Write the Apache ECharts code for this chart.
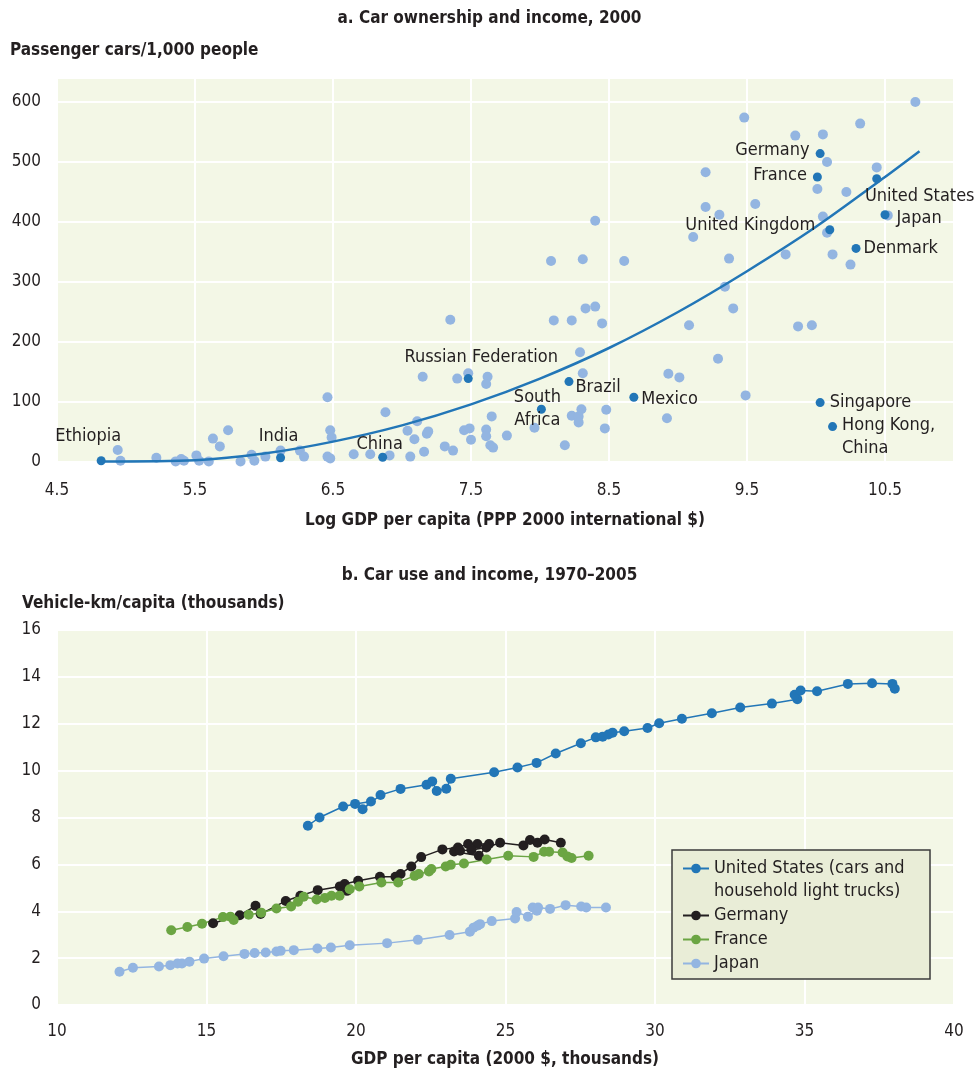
<!DOCTYPE html>
<html>
<head>
<meta charset="utf-8">
<title>Car ownership and car use vs income</title>
<script src="https://cdn.jsdelivr.net/npm/echarts@6/dist/echarts.min.js"></script>
<style>
  html, body { margin: 0; padding: 0; background: #fff; }
  #chart { width: 979px; height: 1072px; }
</style>
</head>
<body>
<div id="chart"></div>
<script>
// ---- panel a: car ownership and income, 2000 ----
// other countries (light dots): log GDP per capita, cars per 1,000 people
var otherGdp = [4.94, 4.96, 5.22, 5.36, 5.40, 5.42, 5.51, 5.53, 5.60, 5.63, 5.68, 5.74, 5.83, 5.91, 5.93,
  6.01, 6.12, 6.26, 6.29, 6.46, 6.48, 6.49, 6.46, 6.48, 6.65, 6.77, 6.91, 6.88, 7.04, 7.11, 7.09, 7.18,
  7.19, 7.06, 7.16, 7.31, 7.37, 7.15, 7.40, 7.35, 7.48, 7.62, 7.61, 7.45, 7.49, 7.50, 7.61, 7.61, 7.65,
  7.64, 7.66, 7.76, 7.96, 8.18, 8.08, 8.31, 8.40, 8.61, 8.10, 8.23, 8.33, 8.40, 8.45, 8.29, 8.31, 8.30,
  8.23, 8.28, 8.28, 8.48, 8.47, 8.93, 8.92, 9.01, 9.08, 9.29, 9.49, 9.34, 9.40, 9.37, 9.11, 9.20, 9.30,
  9.20, 9.48, 9.56, 9.78, 9.87, 9.97, 9.85, 10.05, 10.08, 10.01, 10.22, 10.05, 10.08, 10.12, 10.25,
  10.32, 10.44, 10.52, 10.72];
var otherCars = [20, 2, 7, 1, 5, 2, 11, 2, 1, 39, 26, 53, 1, 12, 2,
  9, 19, 19, 9, 108, 53, 41, 9, 6, 13, 13, 11, 83, 52, 68, 38, 47,
  51, 9, 17, 26, 19, 142, 139, 237, 148, 142, 130, 53, 56, 37, 54, 43, 76,
  28, 24, 44, 57, 28, 335, 338, 402, 335, 236, 236, 256, 259, 231, 183, 148, 88,
  77, 76, 66, 87, 56, 147, 73, 141, 228, 172, 111, 292, 256, 339, 375, 425, 412,
  483, 574, 430, 346, 226, 228, 544, 546, 500, 455, 450, 409, 382, 346, 329,
  564, 491, 411, 600];

// named countries (dark dots)
var namedCountries = ['Ethiopia', 'India', 'China', 'Russian Federation', 'South\nAfrica', 'Brazil', 'Mexico',
  'Germany', 'France', 'United States', 'Japan', 'United Kingdom', 'Denmark', 'Singapore', 'Hong Kong,\nChina'];
var namedGdp = [4.82, 6.12, 6.86, 7.48, 8.01, 8.21, 8.68, 10.03, 10.01, 10.44, 10.50, 10.10, 10.29, 10.03, 10.12];
var namedCars = [2, 7, 8, 139, 88, 134, 108, 514, 475, 472, 412, 387, 356, 99, 59];

// fitted curve
var trendGdp = [4.82, 5.5, 6.0, 6.5, 7.0, 7.5, 8.0, 8.5, 9.0, 9.5, 10.0, 10.5, 10.75];
var trendCars = [1, 3, 14, 34, 61, 96, 139, 190, 250, 318, 392, 475, 518];

// ---- panel b: car use and income, 1970-2005 ----
// GDP per capita (2000 $, thousands) and vehicle-km per capita (thousands)
var usGdp = [18.39, 18.78, 19.57, 19.97, 20.50, 20.22, 20.82, 21.49, 22.36, 22.55, 22.70, 23.02, 23.17, 24.62,
  25.40, 26.04, 26.68, 27.52, 28.02, 28.25, 28.44, 28.58, 28.97, 29.75, 30.14, 30.90, 31.90, 32.85, 33.91,
  34.76, 34.67, 34.87, 35.42, 36.45, 37.26, 37.94, 38.02];
var usVkm = [7.65, 8.00, 8.47, 8.58, 8.68, 8.35, 8.96, 9.22, 9.40, 9.54, 9.13, 9.23, 9.65, 9.93,
  10.13, 10.33, 10.73, 11.17, 11.42, 11.45, 11.54, 11.62, 11.68, 11.82, 12.02, 12.21, 12.45, 12.69, 12.86,
  13.05, 13.24, 13.42, 13.39, 13.70, 13.73, 13.70, 13.49];

var deGdp = [15.22, 16.11, 16.64, 16.81, 17.65, 18.14, 18.72, 19.46, 19.70, 19.62, 20.07, 20.80, 21.32, 21.49,
  21.85, 22.18, 22.89, 23.41, 23.75, 24.06, 24.45, 24.11, 23.28, 23.48, 23.86, 24.36, 24.82, 25.60, 25.82,
  26.07, 26.31, 26.85];
var deVkm = [3.49, 3.83, 4.23, 3.88, 4.44, 4.66, 4.90, 5.06, 4.87, 5.16, 5.30, 5.47, 5.47, 5.59,
  5.91, 6.31, 6.64, 6.72, 6.87, 6.87, 6.87, 6.37, 6.55, 6.58, 6.61, 6.72, 6.92, 6.81, 7.04,
  6.92, 7.06, 6.92];

var frGdp = [13.82, 14.36, 14.85, 15.55, 15.80, 15.91, 16.41, 16.83, 17.34, 17.83, 18.06, 18.25, 18.68, 18.96,
  19.18, 19.45, 19.79, 20.11, 20.85, 21.41, 21.96, 22.10, 22.44, 22.52, 23.00, 23.17, 23.61, 24.37, 25.09,
  25.94, 26.29, 26.46, 26.91, 27.07, 27.21, 27.78];
var frVkm = [3.19, 3.33, 3.47, 3.75, 3.77, 3.63, 3.85, 3.94, 4.12, 4.20, 4.41, 4.62, 4.50, 4.57,
  4.66, 4.66, 4.94, 5.06, 5.23, 5.23, 5.51, 5.59, 5.70, 5.80, 5.91, 5.98, 6.04, 6.21, 6.37,
  6.32, 6.54, 6.54, 6.51, 6.34, 6.27, 6.37];

var jpGdp = [12.09, 12.54, 13.41, 13.79, 14.03, 14.18, 14.43, 14.92, 15.57, 16.27, 16.61, 16.98, 17.34, 17.48,
  17.92, 18.71, 19.16, 19.79, 21.04, 22.07, 23.13, 23.81, 23.93, 24.06, 24.15, 24.54, 25.32, 25.37, 25.75,
  26.05, 25.91, 26.09, 26.49, 27.01, 27.53, 27.70, 28.36];
var jpVkm = [1.42, 1.59, 1.64, 1.70, 1.77, 1.77, 1.85, 1.98, 2.08, 2.18, 2.22, 2.24, 2.28, 2.31,
  2.34, 2.41, 2.45, 2.55, 2.64, 2.78, 2.99, 3.13, 3.30, 3.38, 3.45, 3.58, 3.69, 3.97, 3.77,
  4.02, 4.16, 4.16, 4.10, 4.26, 4.20, 4.16, 4.16];

var seriesNames = ['United States (cars and\nhousehold light trucks)', 'Germany', 'France', 'Japan'];

// ---- styling ----
var FONT = "'Liberation Sans Narrow', 'DejaVu Sans Condensed', 'Roboto', sans-serif";
var TEXT = '#231f20';
var BG = '#f3f7e6';
var DARK_BLUE = '#2276b7';
var LIGHT_BLUE = '#93b5e1';

function pairs(xs, ys) {
  var arr = [];
  for (var i = 0; i < xs.length; i++) {
    arr.push([xs[i], ys[i]]);
  }
  return arr;
}

// where each country name sits next to its dot
var labelPlace = {
  'Ethiopia': { position: 'top', offset: [-13, -3] },
  'India': { position: 'top', offset: [-2, 0] },
  'China': { position: 'top', offset: [-3, 8] },
  'Russian Federation': { position: 'top', offset: [13, 0] },
  'South\nAfrica': { position: 'inside', offset: [-4, 0] },
  'Brazil': { position: 'right', distance: 2, offset: [0, 6] },
  'Mexico': { position: 'right', distance: 3, offset: [0, 2] },
  'Germany': { position: 'left', distance: 6, offset: [0, -3] },
  'France': { position: 'left', distance: 6, offset: [0, -2] },
  'United States': { position: 'bottom', offset: [43, -3] },
  'Japan': { position: 'right', distance: 7, offset: [0, 4] },
  'United Kingdom': { position: 'left', distance: 10, offset: [0, -4] },
  'Denmark': { position: 'right', distance: 3, offset: [0, 0] },
  'Singapore': { position: 'right', distance: 5, offset: [0, 0] },
  'Hong Kong,\nChina': { position: 'right', distance: 5, offset: [0, 10], align: 'left' }
};

var namedData = [];
for (var i = 0; i < namedCountries.length; i++) {
  var p = labelPlace[namedCountries[i]];
  namedData.push({
    name: namedCountries[i],
    value: [namedGdp[i], namedCars[i]],
    label: {
      show: true,
      position: p.position,
      distance: p.distance === undefined ? 5 : p.distance,
      offset: p.offset,
      align: p.align
    }
  });
}

function valueAxis(grid, min, max, interval, hideValue, digits, margin) {
  return {
    type: 'value',
    gridIndex: grid,
    min: min,
    max: max,
    interval: interval,
    axisLine: { show: false },
    axisTick: { show: false },
    splitLine: { show: true, lineStyle: { color: '#ffffff', width: 2 } },
    axisLabel: {
      color: TEXT,
      fontFamily: FONT,
      fontSize: 17,
      margin: margin,
      formatter: function (v) {
        if (v === hideValue) return '';
        return digits ? v.toFixed(digits) : String(v);
      }
    }
  };
}

function titleText(text, pos) {
  var t = {
    text: text,
    textStyle: { fontFamily: FONT, fontSize: 17, fontWeight: 'bold', color: TEXT },
    padding: 0
  };
  for (var k in pos) t[k] = pos[k];
  return t;
}

var chart = echarts.init(document.getElementById('chart'), null, { renderer: 'canvas' });

var option = {
  backgroundColor: '#ffffff',
  animation: false,
  title: [
    titleText('a. Car ownership and income, 2000', { left: 'center', top: 10 }),
    titleText('Passenger cars/1,000 people', { left: 10, top: 42 }),
    titleText('Log GDP per capita (PPP 2000 international $)', { left: 505, top: 512, textAlign: 'center' }),
    titleText('b. Car use and income, 1970\u20132005', { left: 'center', top: 567 }),
    titleText('Vehicle-km/capita (thousands)', { left: 22, top: 595 }),
    titleText('GDP per capita (2000 $, thousands)', { left: 505, top: 1051, textAlign: 'center' })
  ],
  grid: [
    { left: 57, top: 78, width: 897, height: 384, show: true, backgroundColor: BG, borderWidth: 0 },
    { left: 57, top: 630, width: 897, height: 375, show: true, backgroundColor: BG, borderWidth: 0 }
  ],
  xAxis: [
    valueAxis(0, 4.5, 11, 1, 11, 1, 20),
    valueAxis(1, 10, 40, 5, null, 0, 18)
  ],
  yAxis: [
    valueAxis(0, 0, 640, 100, 640, 0, 16),
    valueAxis(1, 0, 16, 2, null, 0, 16)
  ],
  // box behind the legend
  graphic: [{
    type: 'rect',
    z: 10,
    shape: { x: 672, y: 850, width: 258, height: 129 },
    style: { fill: '#e9edd7', stroke: '#3b3b3b', lineWidth: 1.5 }
  }],
  legend: {
    data: seriesNames,
    orient: 'vertical',
    left: 682,
    top: 834,
    padding: 0,
    itemGap: 1,
    itemWidth: 26,
    itemHeight: 12,
    z: 11,
    // blank first line keeps the marker level with the first text line
    formatter: function (name) {
      return name === seriesNames[0] ? '\n' + name : name;
    },
    textStyle: { fontFamily: FONT, fontSize: 18, color: TEXT, lineHeight: 23 }
  },
  series: [
    {
      name: 'others',
      type: 'scatter',
      xAxisIndex: 0, yAxisIndex: 0,
      symbolSize: 10,
      itemStyle: { color: LIGHT_BLUE, opacity: 1 },
      data: pairs(otherGdp, otherCars),
      z: 2
    },
    {
      name: 'trend',
      type: 'line',
      xAxisIndex: 0, yAxisIndex: 0,
      smooth: 0.3,
      showSymbol: false,
      lineStyle: { color: DARK_BLUE, width: 2.5 },
      data: pairs(trendGdp, trendCars),
      z: 3
    },
    {
      name: 'named',
      type: 'scatter',
      xAxisIndex: 0, yAxisIndex: 0,
      symbolSize: 9,
      itemStyle: { color: DARK_BLUE, opacity: 1 },
      label: {
        formatter: '{b}',
        color: TEXT,
        fontFamily: FONT,
        fontSize: 18,
        lineHeight: 23
      },
      data: namedData,
      z: 4
    },
    {
      name: seriesNames[0], type: 'line', xAxisIndex: 1, yAxisIndex: 1,
      symbol: 'circle', symbolSize: 10, color: DARK_BLUE,
      lineStyle: { width: 1.5 }, data: pairs(usGdp, usVkm)
    },
    {
      name: seriesNames[1], type: 'line', xAxisIndex: 1, yAxisIndex: 1,
      symbol: 'circle', symbolSize: 10, color: TEXT,
      lineStyle: { width: 1.5 }, data: pairs(deGdp, deVkm)
    },
    {
      name: seriesNames[2], type: 'line', xAxisIndex: 1, yAxisIndex: 1,
      symbol: 'circle', symbolSize: 10, color: '#6ba543',
      lineStyle: { width: 1.5 }, data: pairs(frGdp, frVkm)
    },
    {
      name: seriesNames[3], type: 'line', xAxisIndex: 1, yAxisIndex: 1,
      symbol: 'circle', symbolSize: 10, color: LIGHT_BLUE,
      lineStyle: { width: 1.5 }, data: pairs(jpGdp, jpVkm)
    }
  ]
};

chart.setOption(option);
</script>
</body>
</html>
